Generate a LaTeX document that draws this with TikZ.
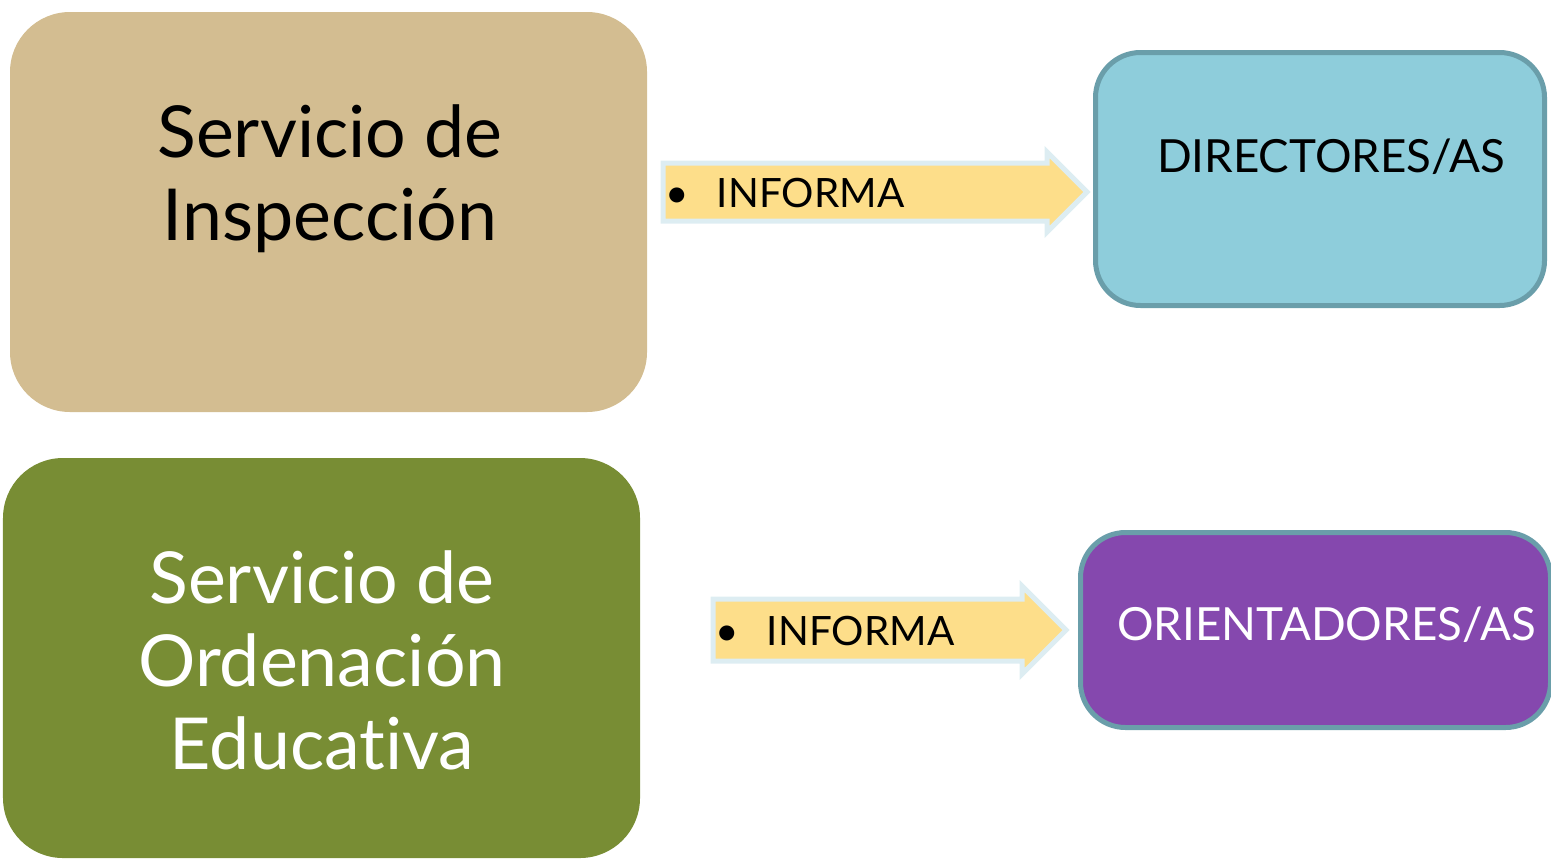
\documentclass[tikz,border=0pt]{standalone}
\usepackage{fontspec}
\setmainfont[Ligatures=CommonOff]{Lato}
\usetikzlibrary{shapes.arrows}
\definecolor{inspeccion}{HTML}{D3BD91}
\definecolor{ordenacion}{HTML}{788D34}
\definecolor{directores}{HTML}{8ECDDB}
\definecolor{orientadores}{HTML}{8548AE}
\definecolor{boxline}{HTML}{6A9EAA}
\definecolor{arrowfill}{HTML}{FDDE8A}
\definecolor{arrowline}{HTML}{DDEDF2}
\tikzstyle{service} = [rectangle, rounded corners=0.6cm, minimum width=6.37cm, minimum height=4cm]
\tikzstyle{target} = [rectangle, rounded corners=0.45cm, line width=0.05cm, draw=boxline]
\tikzstyle{bigtext} = [align=center, font=\fontsize{20.4}{23.6}\selectfont]
\tikzstyle{boxtext} = [anchor=base, inner sep=0pt, font=\fontsize{13}{16}\selectfont]
\tikzstyle{informa} = [single arrow, single arrow tip angle=90, line width=0.05cm, draw=arrowline, fill=arrowfill, inner xsep=0cm, text height=0.31cm, text depth=0cm, align=left, anchor=tail, font=\fontsize{11.5}{14}\selectfont]
\begin{document}
\begin{tikzpicture}
\useasboundingbox (0,0) rectangle (15.51,8.62);

\node (inspeccion) [service, fill=inspeccion] at (3.285,6.50) {};
\node (ordenacion) [service, fill=ordenacion] at (3.215,2.04) {};
\node (inspeccionText) [bigtext] at (3.30,6.83) {Servicio de\\Inspección};
\node (ordenacionText) [bigtext, text=white] at (3.22,2.02) {Servicio de\\Ordenación\\Educativa};

\node (directores) [target, fill=directores, minimum width=4.49cm, minimum height=2.53cm] at (13.20,6.83) {};
\node (orientadores) [target, fill=orientadores, minimum width=4.70cm, minimum height=1.95cm] at (13.155,2.32) {};
\node (directoresText) [boxtext] at (13.31,6.90) {DIRECTORES/AS};
\node (orientadoresText) [boxtext, text=white] at (13.265,2.22) {ORIENTADORES/AS};

\node (informaUno) [informa, text width=3.9cm, inner ysep=0.11cm, single arrow head extend=0.11cm] at (6.605,6.70) {\textbullet\hspace{0.28cm}INFORMA};
\node (informaDos) [informa, text width=3.17cm, inner ysep=0.13cm, single arrow head extend=0.13cm] at (7.105,2.32) {\textbullet\hspace{0.28cm}INFORMA};

\end{tikzpicture}
\end{document}
